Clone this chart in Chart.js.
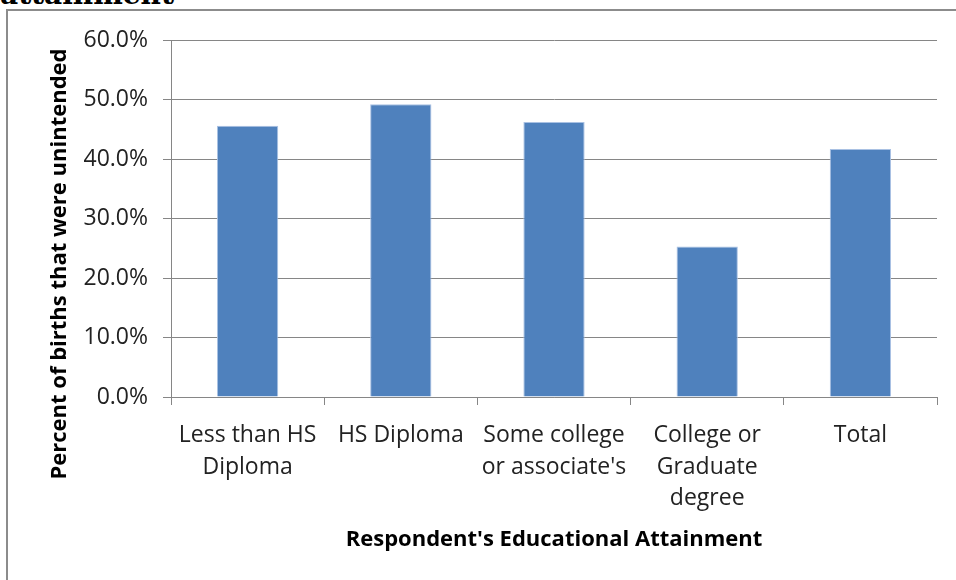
<!DOCTYPE html>
<html>
<head>
<meta charset="utf-8">
<script src="https://cdn.jsdelivr.net/npm/chart.js@4.4.1/dist/chart.umd.min.js"></script>
<style>
  html, body { margin: 0; padding: 0; background: #fff; }
  #wrap { position: relative; width: 956px; height: 580px; overflow: hidden; }
  #cap { position: absolute; left: 0; top: -22px; font: bold 28px "DejaVu Serif", serif; color: #000; white-space: nowrap; }
  #frame { position: absolute; left: 6px; top: 9px; width: 960px; height: 600px; border: 2px solid #8c8c8c; box-sizing: border-box; }
  canvas { position: absolute; left: 0; top: 0; }
</style>
</head>
<body>
<div id="wrap">
  <div id="cap">attainment</div>
  <div id="frame"></div>
  <canvas id="grafico" width="956" height="580"></canvas>
</div>
<script>
// dados
const categorias = [
  ["Less than HS", "Diploma"],
  "HS Diploma",
  ["Some college", "or associate's"],
  ["College or", "Graduate", "degree"],
  "Total"
];
const valores = [45.6, 49.2, 46.2, 25.3, 41.7];
const ticksY = [0, 10, 20, 30, 40, 50, 60];
const tituloY = "Percent of births that were unintended";
const tituloX = "Respondent's Educational Attainment";

const fonte = "'Open Sans', sans-serif";
const cinza = "#868686";

// título do eixo Y centrado na área toda, como no Excel
const tituloYPlugin = {
  id: "tituloY",
  afterDraw(chart) {
    const c = chart.ctx;
    c.save();
    c.translate(60, 264);
    c.rotate(-Math.PI / 2);
    c.font = "bold 22px " + fonte;
    c.fillStyle = "#000";
    c.textAlign = "center";
    c.textBaseline = "middle";
    c.fillText(tituloY, 0, 0);
    c.restore();
  }
};

const ctx = document.getElementById("grafico").getContext("2d");

new Chart(ctx, {
  type: "bar",
  data: {
    labels: categorias,
    datasets: [{
      data: valores,
      backgroundColor: "#4F81BD",
      borderColor: "#A9C1E3",
      borderWidth: 1,
      categoryPercentage: 1,
      barPercentage: 0.4
    }]
  },
  plugins: [tituloYPlugin],
  options: {
    responsive: false,
    animation: false,
    layout: { padding: { top: 40, right: 19, left: 0, bottom: 0 } },
    plugins: { legend: { display: false }, tooltip: { enabled: false } },
    scales: {
      y: {
        min: ticksY[0],
        max: ticksY[ticksY.length - 1],
        afterBuildTicks: s => { s.ticks = ticksY.map(v => ({ value: v })); },
        afterFit: s => { s.width = 171; },
        grid: { color: cinza, lineWidth: 1, tickLength: 8, tickColor: cinza },
        border: { color: cinza, width: 1 },
        ticks: {
          color: "#222",
          padding: 15,
          font: { family: fonte, size: 23 },
          callback: v => v.toFixed(1) + "%"
        }
      },
      x: {
        afterFit: s => { s.height = 183; },
        grid: { drawOnChartArea: false, drawTicks: true, tickLength: 8, tickColor: cinza, color: cinza },
        border: { color: cinza, width: 1 },
        ticks: {
          color: "#222",
          padding: 15,
          maxRotation: 0,
          font: { family: fonte, size: 23, lineHeight: 1.37 }
        },
        title: {
          display: true,
          text: tituloX,
          color: "#000",
          font: { family: fonte, size: 22, weight: "bold" },
          padding: { top: 0, bottom: 27 }
        }
      }
    }
  }
});
</script>
</body>
</html>
